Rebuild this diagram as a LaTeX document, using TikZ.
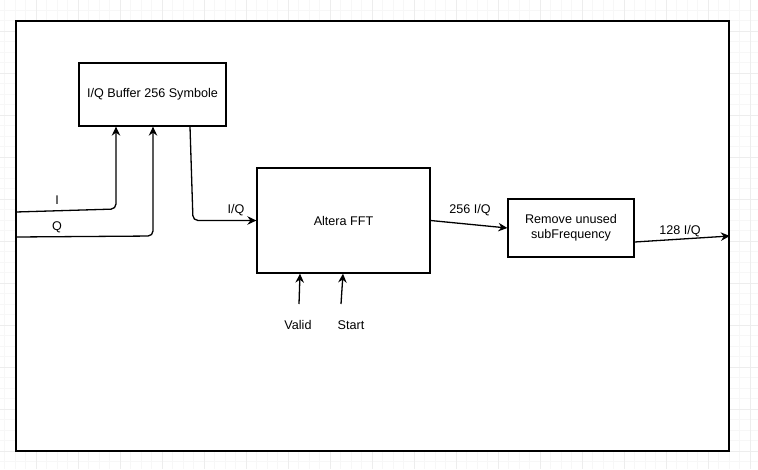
\documentclass[tikz,border=0pt]{standalone}
\usepackage{fontspec}
\setmainfont{Liberation Sans}
\usepackage{tikz}
\usetikzlibrary{arrows.meta}
\tikzset{
  block/.style={draw,line width=1.3pt,fill=white,inner sep=0pt,align=center},
  flow/.style={line width=1.3pt,rounded corners=5pt,-{Stealth[length=9pt,width=8.5pt,inset=3pt]}},
  lbl/.style={inner sep=0pt},
}
\begin{document}
\begin{tikzpicture}[x=1pt,y=-1pt,font=\fontsize{12.6}{15}\selectfont]
\useasboundingbox (0,0) rectangle (758,469);
% background grid
\foreach \i in {0,...,75} \draw[black!3,line width=0.8pt] (-6+10.5*\i,0) -- (-6+10.5*\i,469);
\foreach \i in {0,...,46} \draw[black!3,line width=0.8pt] (0,-11+10.5*\i) -- (758,-11+10.5*\i);
\foreach \i in {0,...,19} \draw[black!7,line width=0.8pt] (-6+42*\i,0) -- (-6+42*\i,469);
\foreach \i in {0,...,12} \draw[black!7,line width=0.8pt] (0,-11+42*\i) -- (758,-11+42*\i);
% frame and blocks
\node[block,line width=1.6pt,minimum width=713pt,minimum height=430pt] (frame) at (372.5,236) {};
\node[block,minimum width=147pt,minimum height=63pt] (buf) at (152.5,94.5) {I/Q Buffer 256 Symbole};
\node[block,minimum width=173pt,minimum height=105pt] (fft) at (343.5,220.5) {Altera FFT};
\node[block,minimum width=126pt,minimum height=58pt] (rem) at (571,228) {Remove unused\\subFrequency};
% free ends
\coordinate (iIn) at (16,212);
\coordinate (qIn) at (16,237);
\coordinate (validIn) at (299,304);
\coordinate (startIn) at (341,304);
% connectors
\draw[flow] (iIn) -- (116,209) -- ([xshift=-36.5pt]buf.south);
\draw[flow] (qIn) -- (153,236) -- ([xshift=0.5pt]buf.south);
\draw[flow] ([xshift=37.5pt]buf.south) -- (193,220.5) -- (fft.west);
\draw[flow] (fft.east) -- (rem.west);
\draw[flow] ([yshift=-14pt]rem.east) -- (frame.east);
\draw[flow] (validIn) -- ([xshift=-43.5pt]fft.south);
\draw[flow] (startIn) -- ([xshift=-0.5pt]fft.south);
% labels
\node[lbl] (lblI) at (57,200) {I};
\node[lbl] (lblQ) at (57,227) {Q};
\node[lbl] (lblIQ) at (236,210) {I/Q};
\node[lbl] (lbl256) at (470,210) {256 I/Q};
\node[lbl] (lbl128) at (680,231) {128 I/Q};
\node[lbl] (lblValid) at (298,325) {Valid};
\node[lbl] (lblStart) at (351,325) {Start};
\end{tikzpicture}
\end{document}
